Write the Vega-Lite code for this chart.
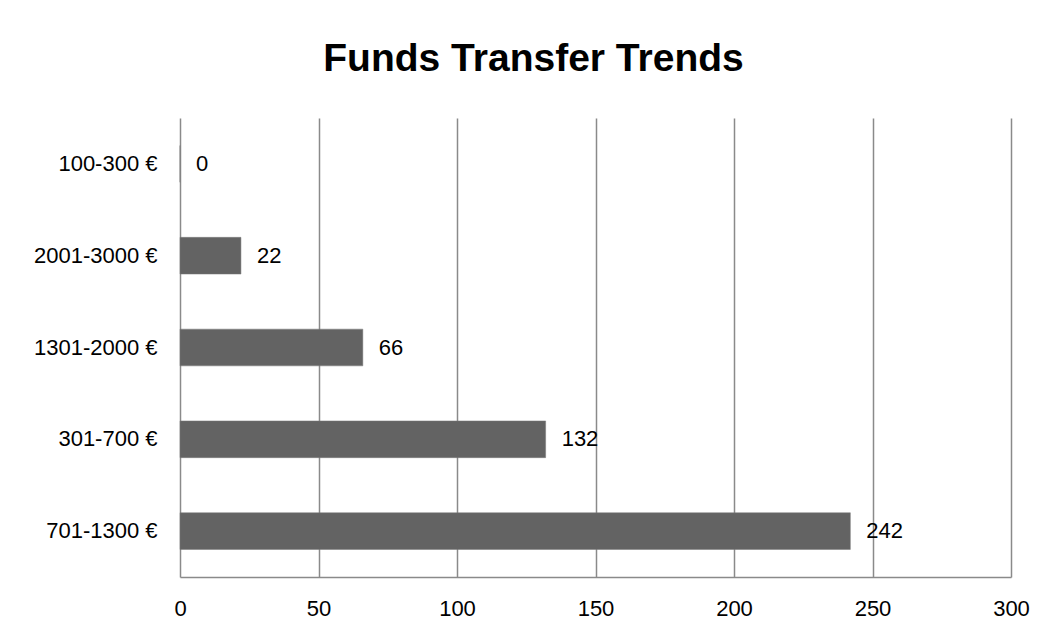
{
  "$schema": "https://vega.github.io/schema/vega-lite/v6.json",
  "autosize": "none",
  "width": 831,
  "height": 459,
  "padding": {"left": 180, "top": 118, "right": 44, "bottom": 60},
  "background": "white",
  "title": {
    "text": "Funds Transfer Trends",
    "font": "Liberation Sans",
    "fontSize": 39,
    "fontWeight": "bold",
    "color": "black",
    "anchor": "middle",
    "baseline": "alphabetic",
    "dx": -62,
    "offset": 8
  },
  "data": {
    "values": [
      {"range": "100-300 €", "count": 0},
      {"range": "2001-3000 €", "count": 22},
      {"range": "1301-2000 €", "count": 66},
      {"range": "301-700 €", "count": 132},
      {"range": "701-1300 €", "count": 242}
    ]
  },
  "encoding": {
    "y": {
      "field": "range",
      "type": "nominal",
      "sort": null,
      "scale": {"paddingInner": 0.6, "paddingOuter": 0.3},
      "axis": {
        "title": null,
        "ticks": false,
        "domain": false,
        "grid": false,
        "labelPadding": 23,
        "labelFont": "Liberation Sans",
        "labelFontSize": 22,
        "labelColor": "black"
      }
    },
    "x": {
      "field": "count",
      "type": "quantitative",
      "scale": {"domain": [0, 300], "nice": false},
      "axis": {
        "title": null,
        "values": [0, 50, 100, 150, 200, 250, 300],
        "ticks": false,
        "domain": true,
        "domainColor": "#8a8a8a",
        "domainWidth": 1.5,
        "grid": true,
        "gridColor": "#8a8a8a",
        "gridWidth": 1.5,
        "labelPadding": 21,
        "labelFont": "Liberation Sans",
        "labelFontSize": 22,
        "labelColor": "black",
        "labelFlush": false
      }
    }
  },
  "layer": [
    {"mark": {"type": "bar", "color": "#636363", "stroke": "#7a7a7a", "strokeWidth": 0.5}},
    {
      "mark": {
        "type": "text",
        "align": "left",
        "baseline": "middle",
        "dx": 16,
        "font": "Liberation Sans",
        "fontSize": 22,
        "color": "black"
      },
      "encoding": {"text": {"field": "count", "type": "quantitative"}}
    }
  ],
  "config": {"view": {"stroke": null}}
}
